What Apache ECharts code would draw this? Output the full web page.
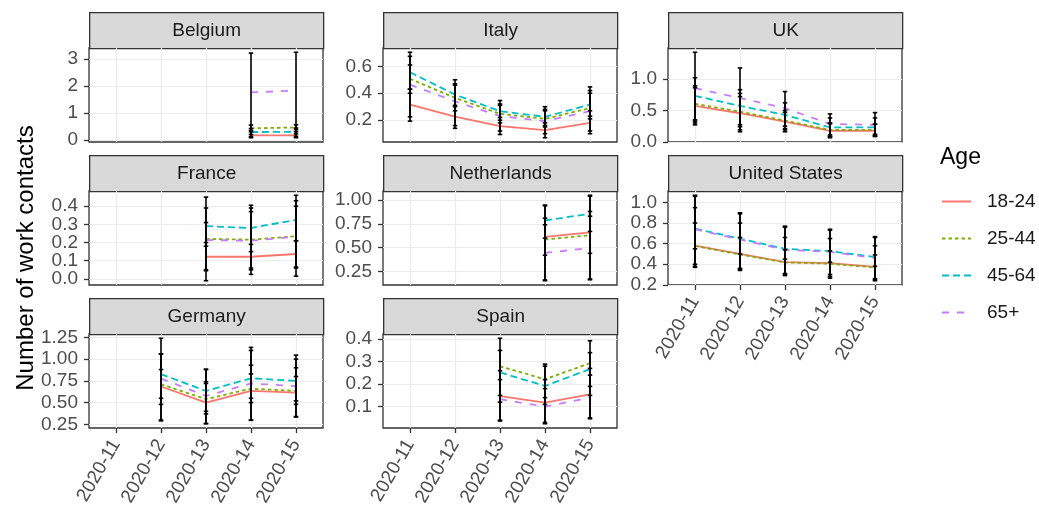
<!DOCTYPE html>
<html><head><meta charset="utf-8">
<script src="https://cdn.jsdelivr.net/npm/echarts@6/dist/echarts.min.js"></script>
<style>html,body{margin:0;padding:0;background:#fff}#c{width:1039px;height:510px}</style>
</head><body><div id="c"></div>
<script>
// ---------------- DATA ----------------
const weeks = ['2020-11', '2020-12', '2020-13', '2020-14', '2020-15'];
const ages = ['18-24', '25-44', '45-64', '65+'];
const countries = ['Belgium', 'Italy', 'UK', 'France', 'Netherlands', 'United States', 'Germany', 'Spain'];
const N = null;

// rows follow ages, columns follow weeks
const belgiumMean = [[N,N,N,0.17,0.17],[N,N,N,0.43,0.46],[N,N,N,0.29,0.30],[N,N,N,1.76,1.83]];
const belgiumLow  = [[N,N,N,0.08,0.08],[N,N,N,0.20,0.22],[N,N,N,0.12,0.13],[N,N,N,0.35,0.38]];
const belgiumHigh = [[N,N,N,0.30,0.30],[N,N,N,0.55,0.56],[N,N,N,0.42,0.44],[N,N,N,3.22,3.25]];
const belgiumTicks = ['0', '1', '2', '3'];

const italyMean = [[0.316,0.227,0.156,0.126,0.180],[0.507,0.366,0.247,0.210,0.290],[0.556,0.390,0.267,0.225,0.316],[0.464,0.340,0.230,0.193,0.267]];
const italyLow  = [[0.193,0.140,0.094,0.070,0.100],[0.400,0.270,0.180,0.150,0.210],[0.430,0.300,0.200,0.160,0.230],[0.225,0.160,0.120,0.100,0.120]];
const italyHigh = [[0.430,0.310,0.220,0.180,0.270],[0.610,0.470,0.320,0.270,0.400],[0.704,0.500,0.346,0.300,0.447],[0.674,0.460,0.310,0.280,0.420]];
const italyTicks = ['0.2', '0.4', '0.6'];

const ukMean = [[0.572,0.455,0.320,0.176,0.176],[0.604,0.480,0.337,0.190,0.190],[0.732,0.572,0.428,0.230,0.230],[0.855,0.695,0.535,0.284,0.270]];
const ukLow  = [[0.270,0.160,0.160,0.065,0.085],[0.350,0.240,0.210,0.090,0.100],[0.300,0.190,0.190,0.080,0.090],[0.330,0.270,0.250,0.110,0.120]];
const ukHigh = [[0.890,0.770,0.500,0.300,0.280],[0.860,0.720,0.470,0.290,0.280],[1.020,0.830,0.620,0.380,0.380],[1.426,1.176,0.800,0.444,0.465]];
const ukTicks = ['0.0', '0.5', '1.0'];

const franceMean = [[N,N,0.122,0.122,0.137],[N,N,0.220,0.216,0.235],[N,N,0.290,0.280,0.325],[N,N,0.214,0.210,0.232]];
const franceLow  = [[N,N,0.045,0.060,0.065],[N,N,-0.010,0.025,0.015],[N,N,0.180,0.150,0.210],[N,N,0.050,0.050,0.060]];
const franceHigh = [[N,N,0.200,0.190,0.210],[N,N,0.450,0.405,0.460],[N,N,0.390,0.390,0.430],[N,N,0.310,0.370,0.400]];
const franceTicks = ['0.0', '0.1', '0.2', '0.3', '0.4'];

const netherlandsMean = [[N,N,N,0.613,0.660],[N,N,N,0.585,0.630],[N,N,N,0.785,0.856],[N,N,N,0.444,0.497]];
const netherlandsLow  = [[N,N,N,0.420,0.440],[N,N,N,0.152,0.162],[N,N,N,0.600,0.670],[N,N,N,0.160,0.170]];
const netherlandsHigh = [[N,N,N,0.810,0.880],[N,N,N,0.947,1.050],[N,N,N,0.940,1.040],[N,N,N,0.740,0.830]];
const netherlandsTicks = ['0.25', '0.50', '0.75', '1.00'];

const usMean = [[0.582,0.500,0.420,0.410,0.374],[0.578,0.495,0.418,0.405,0.370],[0.746,0.648,0.550,0.527,0.470],[0.740,0.640,0.540,0.520,0.460]];
const usLow  = [[0.400,0.360,0.310,0.300,0.260],[0.370,0.340,0.290,0.265,0.240],[0.550,0.500,0.450,0.420,0.380],[0.380,0.350,0.300,0.280,0.250]];
const usHigh = [[0.800,0.660,0.540,0.530,0.490],[0.950,0.800,0.660,0.650,0.580],[1.070,0.900,0.770,0.740,0.668],[1.060,0.890,0.760,0.730,0.660]];
const usTicks = ['0.2', '0.4', '0.6', '0.8', '1.0'];

const germanyMean = [[N,0.685,0.500,0.634,0.615],[N,0.710,0.540,0.660,0.634],[N,0.827,0.634,0.780,0.750],[N,0.777,0.576,0.720,0.690]];
const germanyLow  = [[N,0.290,0.257,0.296,0.334],[N,0.480,0.370,0.500,0.480],[N,0.550,0.400,0.550,0.520],[N,0.300,0.260,0.300,0.340]];
const germanyHigh = [[N,1.060,0.740,0.930,0.900],[N,0.880,0.720,0.830,0.800],[N,1.240,0.885,1.135,1.046],[N,1.060,0.880,1.100,1.000]];
const germanyTicks = ['0.25', '0.50', '0.75', '1.00', '1.25'];

const spainMean = [[N,N,0.147,0.118,0.155],[N,N,0.279,0.222,0.293],[N,N,0.252,0.192,0.267],[N,N,0.133,0.100,0.140]];
const spainLow  = [[N,N,0.040,0.030,0.050],[N,N,0.150,0.140,0.190],[N,N,0.120,0.110,0.150],[N,N,0.036,0.024,0.046]];
const spainHigh = [[N,N,0.260,0.220,0.270],[N,N,0.404,0.289,0.393],[N,N,0.350,0.280,0.340],[N,N,0.220,0.180,0.240]];
const spainTicks = ['0.1', '0.2', '0.3', '0.4'];

// ---------------- LAYOUT / STYLE ----------------
const FONT = '"Liberation Sans", Arial, sans-serif';
const ageColors = ['#F8766D', '#7CAE00', '#00BFC4', '#C77CFF'];
const ageDash = ['solid', [3.5, 3], [7, 4], [7, 8]];
const colLeft = [89, 383, 668];
const stripTop = [12, 155, 298];
const panelW = 234, stripH = 36, panelH = 94;
const showXLabels = [false, false, false, false, false, true, true, true];
const GRID = { color: '#ebebeb', width: 1.2 };
const TICK = { color: '#333333', width: 1.3 };

const panels = [
  [belgiumMean, belgiumLow, belgiumHigh, belgiumTicks],
  [italyMean, italyLow, italyHigh, italyTicks],
  [ukMean, ukLow, ukHigh, ukTicks],
  [franceMean, franceLow, franceHigh, franceTicks],
  [netherlandsMean, netherlandsLow, netherlandsHigh, netherlandsTicks],
  [usMean, usLow, usHigh, usTicks],
  [germanyMean, germanyLow, germanyHigh, germanyTicks],
  [spainMean, spainLow, spainHigh, spainTicks]
];

const grids = [], xAxes = [], yAxes = [], series = [], graphics = [];

function yLabelAxis(i, lo, hi, vals, ticks, tickVals, main) {
  return {
    type: 'value', gridIndex: i, min: lo, max: hi, position: 'left', offset: 0,
    axisLine: { show: false, onZero: false },
    axisTick: { show: main, length: 5, customValues: tickVals, lineStyle: TICK },
    axisLabel: { customValues: vals, margin: 11, interval: 0,
      showMinLabel: true, showMaxLabel: true, hideOverlap: false,
      formatter: v => { let k = 0; tickVals.forEach((t, j) => { if (Math.abs(t - v) < Math.abs(tickVals[k] - v)) k = j; }); return ticks[k]; },
      fontSize: 19, color: '#4d4d4d', fontFamily: FONT },
    splitLine: { show: main, lineStyle: GRID }
  };
}

panels.forEach(([mean, low, high, ticks], i) => {
  const row = Math.floor(i / 3), col = i % 3;
  const left = colLeft[col], top = stripTop[row] + stripH;
  let mn = Infinity, mx = -Infinity;
  [mean, low, high].forEach(arr => arr.forEach(r => r.forEach(v => {
    if (v !== null) { mn = Math.min(mn, v); mx = Math.max(mx, v); }
  })));
  const pad = (mx - mn) * 0.05;
  const tickVals = ticks.map(Number);
  const evenVals = tickVals.filter((v, j) => j % 2 === 0);
  const oddVals = tickVals.filter((v, j) => j % 2 === 1);

  grids.push({ left, top, width: panelW, height: panelH, show: true,
    borderColor: '#333333', borderWidth: 1.3,
    containLabel: false, outerBoundsMode: 'none' });

  xAxes.push({
    type: 'value', gridIndex: i, min: -0.6, max: 4.6,
    axisLine: { show: false, onZero: false },
    axisTick: { show: showXLabels[i], length: 5, customValues: [0, 1, 2, 3, 4], lineStyle: TICK },
    axisLabel: { show: showXLabels[i], customValues: [0, 1, 2, 3, 4], interval: 0,
      showMinLabel: true, showMaxLabel: true, hideOverlap: false,
      formatter: v => weeks[Math.round(v)], rotate: 60, margin: 13,
      fontSize: 19, color: '#4d4d4d', fontFamily: FONT },
    splitLine: { show: true, lineStyle: GRID }
  });

  const yMain = yAxes.length;
  yAxes.push(yLabelAxis(i, mn - pad, mx + pad, evenVals, ticks, tickVals, true));
  yAxes.push(yLabelAxis(i, mn - pad, mx + pad, oddVals, ticks, tickVals, false));

  ages.forEach((age, a) => {
    const pts = [];
    mean[a].forEach((v, w) => { if (v !== null) pts.push([w, v]); });
    series.push({
      type: 'line', name: age, xAxisIndex: i, yAxisIndex: yMain, data: pts,
      symbol: 'none', silent: true, animation: false, z: 2,
      lineStyle: { color: ageColors[a], width: 1.8, type: ageDash[a] },
      itemStyle: { color: ageColors[a] }
    });
  });

  const eb = [];
  ages.forEach((age, a) => {
    low[a].forEach((lo, w) => { if (lo !== null) eb.push([w, lo, high[a][w]]); });
  });
  series.push({
    type: 'custom', xAxisIndex: i, yAxisIndex: yMain, data: eb, silent: true, animation: false, z: 3,
    encode: { x: 0, y: [1, 2] },
    renderItem: (params, api) => {
      const x = api.value(0);
      const pt = api.coord([x, api.value(2)]);
      const pb = api.coord([x, api.value(1)]);
      const hw = api.size([0.1, 0])[0] / 2;
      const st = { stroke: '#000', lineWidth: 1.6 };
      return { type: 'group', children: [
        { type: 'line', shape: { x1: pt[0], y1: pt[1], x2: pb[0], y2: pb[1] }, style: st },
        { type: 'line', shape: { x1: pt[0] - hw, y1: pt[1], x2: pt[0] + hw, y2: pt[1] }, style: st },
        { type: 'line', shape: { x1: pb[0] - hw, y1: pb[1], x2: pb[0] + hw, y2: pb[1] }, style: st }
      ]};
    }
  });

  graphics.push({
    type: 'group', left: left, top: stripTop[row], silent: true,
    children: [
      { type: 'rect', shape: { x: 0, y: 0, width: panelW, height: stripH },
        style: { fill: '#d9d9d9', stroke: '#333333', lineWidth: 1.3 } },
      { type: 'text', x: panelW / 2, y: stripH / 2,
        style: { text: countries[i], fill: '#1a1a1a', fontSize: 19, fontFamily: FONT,
          textAlign: 'center', textVerticalAlign: 'middle' } }
    ]
  });
});

graphics.push({
  type: 'text', x: 26, y: 258, rotation: Math.PI / 2, silent: true,
  style: { text: 'Number of work contacts', fill: '#000', fontSize: 24, fontFamily: FONT,
    textAlign: 'center', textVerticalAlign: 'middle' }
});

const chart = echarts.init(document.getElementById('c'), null, { renderer: 'canvas' });
chart.setOption({
  animation: false,
  backgroundColor: '#fff',
  title: { text: 'Age', left: 940, top: 146, padding: 0,
    textStyle: { fontSize: 23, fontWeight: 'normal', color: '#000', fontFamily: FONT } },
  legend: { data: ages, orient: 'vertical', left: 941, top: 192, padding: 0,
    itemWidth: 29, itemHeight: 14, itemGap: 18, selectedMode: false,
    itemStyle: { opacity: 0 },
    textStyle: { fontSize: 19, color: '#1a1a1a', fontFamily: FONT, padding: [0, 0, 0, 11] } },
  grid: grids, xAxis: xAxes, yAxis: yAxes, series: series, graphic: graphics
});
</script>
</body></html>
